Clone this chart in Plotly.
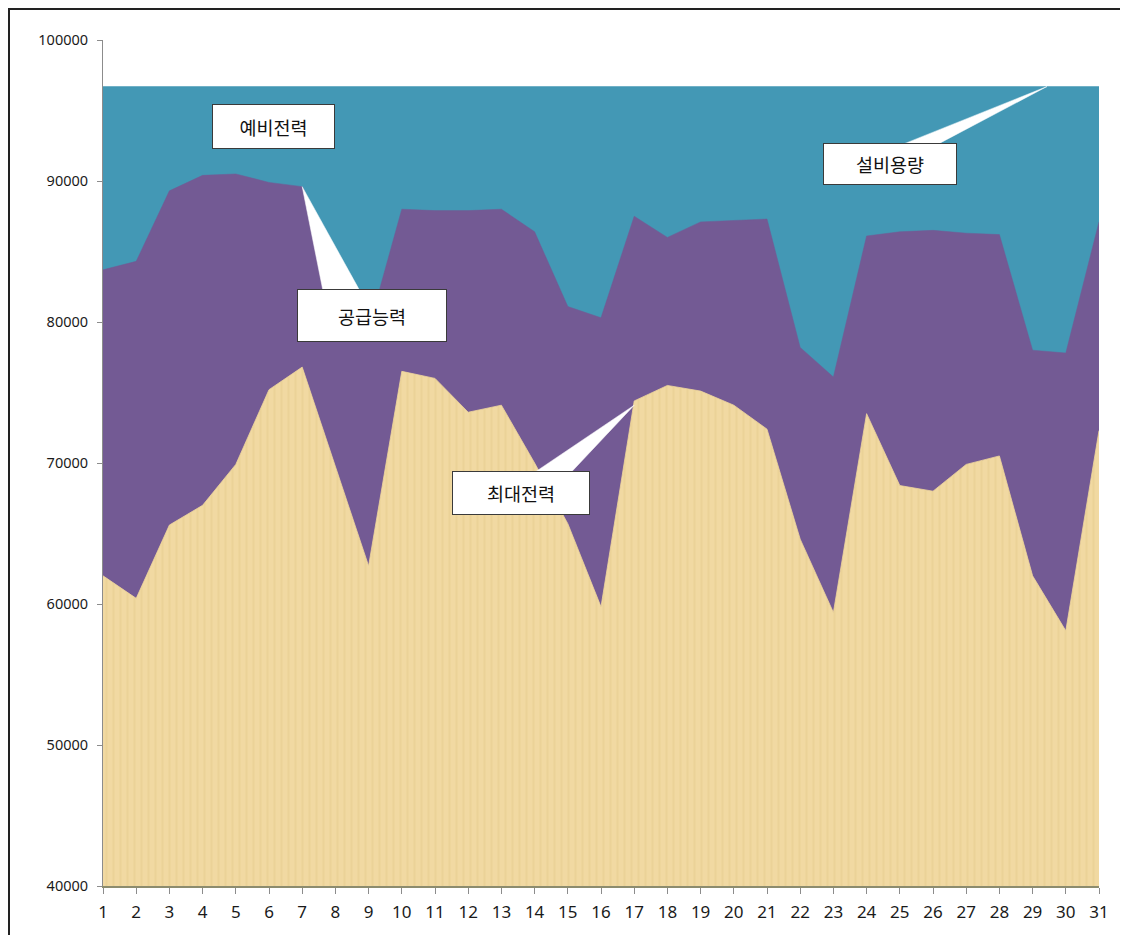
import plotly.graph_objects as go

# ---------------- data ----------------
days = list(range(1, 32))
# 설비용량 (installed capacity)
capacity = [96700] * 31
# 공급능력 (supply capability)
supply = [83700, 84300, 89300, 90400, 90500, 89900, 89600, 84500, 79500, 88000,
          87900, 87900, 88000, 86400, 81100, 80300, 87500, 86000, 87100, 87200,
          87300, 78200, 76100, 86100, 86400, 86500, 86300, 86200, 78000, 77800,
          87100]
# 최대전력 (peak demand)
peak = [62000, 60400, 65600, 67000, 69900, 75200, 76800, 69800, 62700, 76500,
        76000, 73600, 74100, 70000, 65700, 59800, 74400, 75500, 75100, 74100,
        72400, 64600, 59400, 73500, 68400, 68000, 69900, 70500, 62000, 58100,
        72300]
y_ticks = [40000, 50000, 60000, 70000, 80000, 90000, 100000]
labels = {"reserve": "예비전력", "supply": "공급능력", "peak": "최대전력", "capacity": "설비용량"}

# ---------------- layout geometry (page pixels of the reference) ----------------
OFF = 8                      # default body margin of the page
FW, FH = 1117, 927           # figure size
L, R, T, B = 103, 1099, 40, 889
X0, X1 = 1, 31
Y0, Y1 = 40000, 100000


def px2x(px):
    return X0 + (px - L) * (X1 - X0) / (R - L)


def py2y(py):
    return Y1 - (py - T) * (Y1 - Y0) / (B - T)


def ppx(px):
    return (px - L) / (R - L)


def ppy(py):
    return (B - py) / (B - T)


TEAL = "#4398B5"
PURPLE = "#735A94"
SAND = "#F1D9A2"

fig = go.Figure()
fig.add_trace(go.Scatter(x=days, y=capacity, mode="lines", fill="tozeroy",
                         fillcolor=TEAL, line=dict(color=TEAL, width=0.5),
                         name=labels["capacity"], hoverinfo="x+y"))
fig.add_trace(go.Scatter(x=days, y=supply, mode="lines", fill="tozeroy",
                         fillcolor=PURPLE, line=dict(color=PURPLE, width=0.5),
                         name=labels["supply"], hoverinfo="x+y"))
fig.add_trace(go.Scatter(x=days, y=peak, mode="lines", fill="tozeroy",
                         fillcolor=SAND, line=dict(color="#EFD69C", width=0.8),
                         fillpattern=dict(shape="|", bgcolor=SAND, fgcolor="#D6B775",
                                          fgopacity=0.22, size=7, solidity=0.3),
                         name=labels["peak"], hoverinfo="x+y"))

shapes = []


def wedge(tip_x, tip_y, bx1, bx2, by):
    return dict(type="path", xref="x", yref="y",
                path=f"M {tip_x},{tip_y} L {px2x(bx1)},{py2y(by)} L {px2x(bx2)},{py2y(by)} Z",
                fillcolor="white", line=dict(color="white", width=0.5), layer="above")


shapes.append(wedge(days[6], supply[6], 323, 360, 292))
shapes.append(wedge(days[16], peak[16] - 300, 533, 570, 475))
shapes.append(wedge(px2x(1047), capacity[0], 902, 937, 145))
# outer border
shapes.append(dict(type="rect", xref="paper", yref="paper",
                   x0=ppx(OFF + 1), x1=ppx(OFF + FW - 1.5), y0=ppy(990), y1=ppy(OFF + 1),
                   line=dict(color="#222222", width=2), fillcolor="rgba(0,0,0,0)"))

box_font = dict(family="Noto Sans CJK KR", size=18.5, color="#111111")


def callout(text, cx, cy, w, h):
    return dict(x=px2x(cx), y=py2y(cy), xref="x", yref="y", text=text, showarrow=False,
                font=box_font, bgcolor="white", bordercolor="#3a3a3a", borderwidth=1,
                width=w, height=h, align="center", valign="middle", borderpad=0)


annotations = [
    callout(labels["reserve"], 273, 127, 121, 43),
    callout(labels["supply"], 372, 316, 148, 51),
    callout(labels["peak"], 521, 495, 136, 42),
    callout(labels["capacity"], 890, 164, 132, 40),
]

fig.update_layout(
    width=FW, height=FH,
    margin=dict(l=L - OFF, r=FW - (R - OFF), t=T - OFF, b=FH - (B - OFF)),
    paper_bgcolor="white", plot_bgcolor="white",
    showlegend=False,
    shapes=shapes, annotations=annotations,
    xaxis=dict(range=[X0, X1], tickmode="array", tickvals=days,
               ticktext=[str(d) for d in days], showgrid=False, zeroline=False,
               showline=True, linecolor="#8C8C6E", linewidth=1.5,
               ticks="outside", ticklen=6, tickcolor="#8C8C8C",
               tickfont=dict(family="Noto Sans", size=17, color="#1a1a1a"),
               ticklabelstandoff=4),
    yaxis=dict(range=[Y0, Y1], tickmode="array", tickvals=y_ticks,
               ticktext=[str(v) for v in y_ticks], showgrid=True, gridcolor="#8A8A8A",
               gridwidth=1, zeroline=False, showline=True, linecolor="#8C8C8C",
               linewidth=1, ticks="outside", ticklen=5, tickcolor="#8C8C8C",
               tickfont=dict(family="Noto Sans", size=14.5, color="#1a1a1a"),
               ticklabelstandoff=6),
)

fig.write_html("out.html")
